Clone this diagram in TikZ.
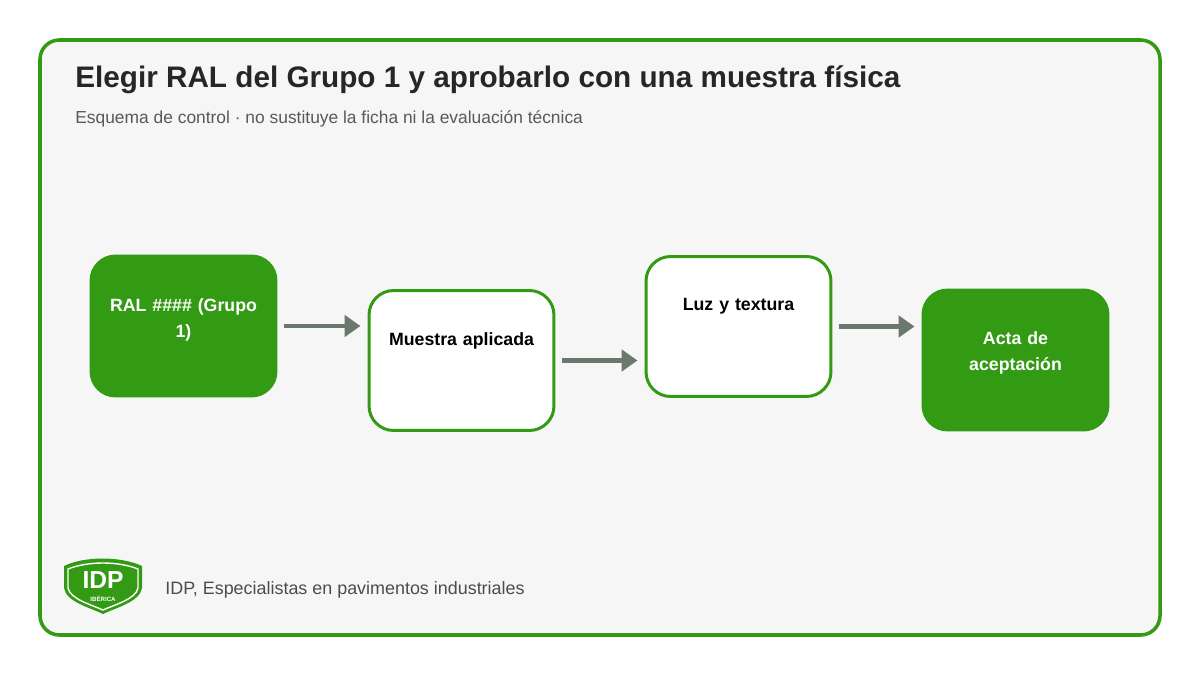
\documentclass[tikz,border=0pt]{standalone}
\usepackage{fontspec}
\setmainfont{Liberation Sans}
\usetikzlibrary{positioning,arrows.meta,calc}
\definecolor{idpgreen}{HTML}{339A14}
\definecolor{paper}{HTML}{F6F6F6}
\definecolor{arrowgray}{HTML}{6B786D}
\tikzset{
	stepbox/.style={rectangle, rounded corners=14pt, line width=1.7pt, draw=idpgreen, minimum width=3.7cm, minimum height=2.8cm, inner sep=0pt},
	solidbox/.style={stepbox, fill=idpgreen},
	openbox/.style={stepbox, fill=white},
	steptxt/.style={font=\bfseries\fontsize{10.1}{14.7}\selectfont, align=center, text width=3.4cm},
	flow/.style={draw=arrowgray, line width=2.8pt, -{Triangle[length=9pt,width=12pt]}, shorten <=3.5pt, shorten >=4pt},
	plaintxt/.style={anchor=base west, inner sep=0pt}
}
\begin{document}
\begin{tikzpicture}[x=0.02cm, y=-0.02cm]
	\useasboundingbox (0,0) rectangle (1200,675);
	% frame
	\draw[idpgreen, line width=2pt, fill=paper, rounded corners=11pt] (40,40) rectangle (1160,635);
	\node[plaintxt, text=black!85, font=\bfseries\fontsize{16.9}{20}\selectfont] (title) at (75,88) {Elegir RAL del Grupo 1 y aprobarlo con una muestra física};
	\node[plaintxt, text=black!65, font=\fontsize{9.9}{12}\selectfont] (sub) at (75,124) {Esquema de control · no sustituye la ficha ni la evaluación técnica};
	% steps
	\node[solidbox] (ral) at (183.5,326) {};
	\node[openbox] (muestra) at (461.5,360.5) {};
	\node[openbox] (luz) at (738.5,326.5) {};
	\node[solidbox] (acta) at (1015.5,360) {};
	\node[steptxt, text=white] at ($(ral.center)+(0,-6)$) {RAL \#\#\#\# (Grupo\\1)};
	\node[steptxt] at ($(muestra.center)+(0,-20)$) {Muestra aplicada};
	\node[steptxt] at ($(luz.center)+(0,-20)$) {Luz y textura};
	\node[steptxt, text=white] at ($(acta.center)+(0,-7)$) {Acta de\\aceptación};
	% connectors
	\draw[flow] (ral.east) -- (muestra.west |- ral.east);
	\draw[flow] (muestra.east) -- (luz.west |- muestra.east);
	\draw[flow] (luz.east) -- (acta.west |- luz.east);
	% logo
	\fill[idpgreen] (64,566) .. controls (85,556) and (120,556) .. (142,566) -- (142,588) .. controls (140,602) and (115,608) .. (103,614) .. controls (91,608) and (66,602) .. (64,588) -- cycle;
	\draw[white, line width=0.8pt] (68,569) .. controls (88,561) and (118,561) .. (138,569) -- (138,588) .. controls (136,599) and (114,605) .. (103,610) .. controls (92,605) and (70,599) .. (68,588) -- cycle;
	\node[text=white, font=\bfseries\fontsize{14}{14}\selectfont] (idp) at (103,580) {IDP};
	\node[text=white, font=\bfseries\fontsize{3.5}{4}\selectfont] (iberica) at (103,599) {IBÉRICA};
	\node[plaintxt, text=black!70, font=\fontsize{10.2}{12}\selectfont] (foot) at (165,594) {IDP, Especialistas en pavimentos industriales};
\end{tikzpicture}
\end{document}
